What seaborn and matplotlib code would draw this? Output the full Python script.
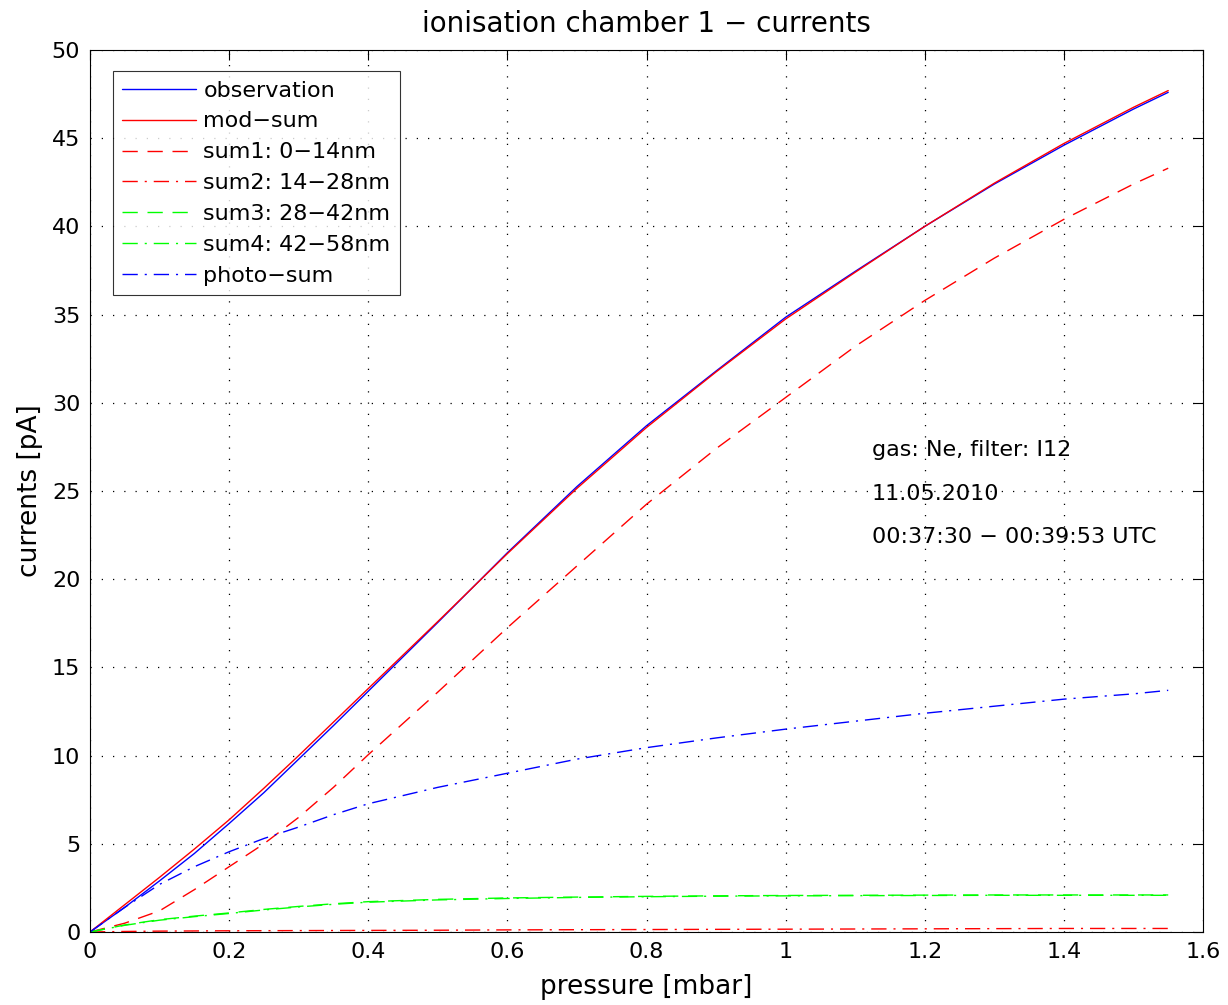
import matplotlib
matplotlib.use("Agg")
import matplotlib.pyplot as plt
import seaborn as sns
import numpy as np

pressure = [0.0, 0.05, 0.1, 0.15, 0.2, 0.25, 0.3, 0.35, 0.4, 0.5, 0.6, 0.7, 0.8, 0.9, 1.0, 1.1, 1.2, 1.3, 1.4, 1.5, 1.55]
observation = [0.0, 1.4, 2.9, 4.45, 6.15, 7.9, 9.8, 11.7, 13.65, 17.55, 21.5, 25.25, 28.7, 31.8, 34.85, 37.45, 40.0, 42.4, 44.6, 46.65, 47.6]
mod_sum = [0.0, 1.55, 3.1, 4.7, 6.36, 8.15, 10.0, 11.9, 13.8, 17.6, 21.45, 25.15, 28.6, 31.75, 34.75, 37.4, 40.0, 42.45, 44.7, 46.75, 47.7]
sum1 = [0.0, 0.5, 1.2, 2.4, 3.7, 5.0, 6.5, 8.2, 10.05, 13.6, 17.25, 20.75, 24.25, 27.4, 30.3, 33.2, 35.8, 38.2, 40.4, 42.4, 43.3]
sum2 = [0.0, 0.03, 0.05, 0.06, 0.07, 0.075, 0.08, 0.085, 0.09, 0.1, 0.12, 0.13, 0.14, 0.15, 0.16, 0.17, 0.18, 0.19, 0.2, 0.2, 0.2]
sum3 = [0.0, 0.4, 0.7, 0.9, 1.08, 1.28, 1.45, 1.6, 1.72, 1.85, 1.93, 1.98, 2.02, 2.05, 2.07, 2.08, 2.09, 2.1, 2.1, 2.1, 2.1]
sum4 = [0.0, 0.38, 0.67, 0.87, 1.05, 1.25, 1.42, 1.57, 1.69, 1.82, 1.9, 1.96, 2.0, 2.03, 2.05, 2.06, 2.07, 2.08, 2.08, 2.08, 2.08]
photo_sum = [0.0, 1.4, 2.7, 3.7, 4.55, 5.3, 5.95, 6.65, 7.27, 8.2, 9.0, 9.8, 10.45, 11.0, 11.5, 11.95, 12.4, 12.8, 13.2, 13.5, 13.7]

labels = ["observation", "mod\u2212sum", "sum1: 0\u221214nm", "sum2: 14\u221228nm",
          "sum3: 28\u221242nm", "sum4: 42\u221258nm", "photo\u2212sum"]
annotation = ["gas: Ne, filter: I12", "11.05.2010", "00:37:30 \u2212 00:39:53 UTC"]

sns.set_style("white")
plt.rcParams['font.family'] = ['DejaVu Sans']
plt.rcParams['xtick.direction'] = 'in'
plt.rcParams['ytick.direction'] = 'in'
plt.rcParams['text.color'] = 'black'
plt.rcParams['axes.labelcolor'] = 'black'
plt.rcParams['xtick.color'] = 'black'
plt.rcParams['ytick.color'] = 'black'

fig = plt.figure(figsize=(12.28, 10.05), dpi=100)
ax = fig.add_axes([90/1228, 73/1005, (1203-90)/1228, (932-50)/1005])

dash = (0, (11, 7))
dashdot = (0, (11, 5, 1.5, 5))
series = [
    (observation, "#0000ff", "-"),
    (mod_sum, "#ff0000", "-"),
    (sum1, "#ff0000", dash),
    (sum2, "#ff0000", dashdot),
    (sum3, "#00ff00", dash),
    (sum4, "#00ff00", dashdot),
    (photo_sum, "#0000ff", dashdot),
]
for (vals, col, ls), lab in zip(series, labels):
    sns.lineplot(x=pressure, y=vals, ax=ax, color=col, linestyle=ls, linewidth=1.0, label=lab)

ax.set_xlim(0, 1.6)
ax.set_ylim(0, 50)
ax.set_xticks(np.arange(0, 1.61, 0.2))
ax.set_xticklabels(["0", "0.2", "0.4", "0.6", "0.8", "1", "1.2", "1.4", "1.6"])
ax.set_yticks(np.arange(0, 51, 5))
ax.tick_params(axis='both', labelsize=16, top=True, right=True, length=7, width=0.8, pad=7,
               colors='black')
ax.grid(True, color='black', linestyle=(0, (1, 8)), linewidth=0.9)
for sp in ax.spines.values():
    sp.set_color('black')
    sp.set_linewidth(0.8)

ax.set_xlabel("pressure [mbar]", fontsize=19, labelpad=9, color='black')
ax.set_ylabel("currents [pA]", fontsize=19, labelpad=6, color='black')
ax.set_title("ionisation chamber 1 \u2212 currents", fontsize=20, pad=13, color='black')

leg = ax.legend(loc='upper left', bbox_to_anchor=(0.0207, 0.976), fontsize=16, frameon=True,
                fancybox=False, edgecolor='black', handlelength=3.3, handletextpad=0.35,
                labelspacing=0.49, borderpad=0.42, borderaxespad=0)
leg.get_frame().set_linewidth(0.8)
for t in leg.get_texts():
    t.set_color('black')

for i, t in enumerate(annotation):
    ax.text(1.124, 27.3 - i * 2.45, t, fontsize=16, va='center', ha='left', color='black')

fig.savefig("out.png", dpi=100)
